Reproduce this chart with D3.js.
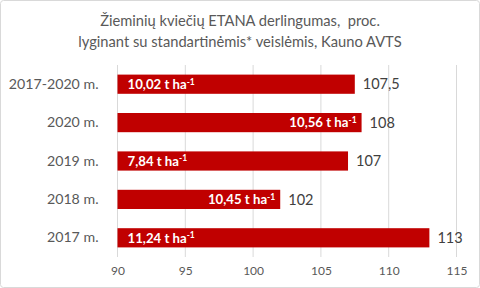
<!DOCTYPE html>
<html>
<head>
<meta charset="utf-8">
<script src="https://cdn.jsdelivr.net/npm/d3@7"></script>
<style>
  body { margin: 0; background: #fff; }
  text { font-family: Lato, "Open Sans", sans-serif; }
</style>
</head>
<body>
<div id="chart"></div>
<script>
// Chart data
var categories = ["2017-2020 m.", "2020 m.", "2019 m.", "2018 m.", "2017 m."];
var values = [107.5, 108, 107, 102, 113];
var yields = ["10,02", "10,56", "7,84", "10,45", "11,24"];
var yieldAlign = ["start", "end", "start", "end", "start"];
var ticks = [90, 95, 100, 105, 110, 115];
var titleLines = ["Žieminių kviečių ETANA derlingumas,  proc.",
  "lyginant su standartinėmis* veislėmis, Kauno AVTS"];

var svgWidth = 480;
var svgHeight = 288;

var margin = { top: 65, right: 23, bottom: 31, left: 117.5 };
var width = svgWidth - margin.left - margin.right;
var height = svgHeight - margin.top - margin.bottom;

var svg = d3.select("#chart").append("svg")
  .attr("width", svgWidth)
  .attr("height", svgHeight);

// outer frame
svg.append("rect")
  .attr("x", 0.5).attr("y", 0.5)
  .attr("width", svgWidth - 1).attr("height", svgHeight - 1)
  .attr("rx", 3)
  .attr("fill", "#fff")
  .attr("stroke", "#d9d9d9");

// Title
svg.append("text")
  .attr("x", 240)
  .attr("text-anchor", "middle")
  .attr("fill", "#595959")
  .attr("font-size", "14.7px")
  .selectAll("tspan")
  .data(titleLines)
  .enter()
  .append("tspan")
  .attr("x", 240)
  .attr("y", (d, i) => 26 + i * 20.5)
  .style("white-space", "pre")
  .text(d => d);

var chartGroup = svg.append("g")
  .attr("transform", `translate(${margin.left}, ${margin.top})`);

var x = d3.scaleLinear().domain([90, 115]).range([0, 339]);
var y = d3.scaleBand().domain(categories).range([0, height]).paddingInner(0.5).paddingOuter(0.25);

// gridlines
chartGroup.append("g")
  .selectAll("line")
  .data(ticks)
  .enter()
  .append("line")
  .attr("x1", d => x(d)).attr("x2", d => x(d))
  .attr("y1", 0).attr("y2", height)
  .attr("stroke", "#d9d9d9")
  .attr("stroke-width", 1);

// x axis
var xAxis = chartGroup.append("g")
  .attr("transform", `translate(0, ${height})`)
  .call(d3.axisBottom(x).tickValues(ticks).tickSize(0).tickPadding(9));
xAxis.select(".domain").remove();
xAxis.selectAll("text")
  .attr("fill", "#595959")
  .attr("font-size", "12px")
  .style("font-family", "Lato, sans-serif");

// y axis
var yAxis = chartGroup.append("g")
  .call(d3.axisLeft(y).tickSize(0).tickPadding(19));
yAxis.select(".domain").remove();
yAxis.selectAll("text")
  .attr("fill", "#595959")
  .attr("font-size", "14.2px")
  .style("font-family", "Lato, sans-serif");

var data = categories.map((c, i) => ({ cat: c, value: values[i], yld: yields[i], align: yieldAlign[i] }));

// bars
chartGroup.selectAll(".bar")
  .data(data)
  .enter()
  .append("rect")
  .attr("class", "bar")
  .attr("x", x(90))
  .attr("y", d => y(d.cat))
  .attr("width", d => x(d.value) - x(90))
  .attr("height", y.bandwidth())
  .attr("fill", "#c00000");

// value labels
chartGroup.selectAll(".val")
  .data(data)
  .enter()
  .append("text")
  .attr("class", "val")
  .attr("x", d => x(d.value) + 8)
  .attr("y", d => y(d.cat) + y.bandwidth() / 2)
  .attr("dy", "0.36em")
  .attr("fill", "#404040")
  .attr("font-size", "14.5px")
  .text(d => String(d.value).replace(".", ","));

// yield labels inside bars
var yl = chartGroup.selectAll(".yld")
  .data(data)
  .enter()
  .append("text")
  .attr("class", "yld")
  .attr("x", d => d.align === "start" ? x(90) + 10 : x(d.value) - 5)
  .attr("y", d => y(d.cat) + y.bandwidth() / 2 + 4.8)
  .attr("text-anchor", d => d.align)
  .attr("fill", "#fff")
  .attr("font-weight", "bold")
  .attr("font-size", "13.2px");
yl.append("tspan").text(d => d.yld + " t ha");
yl.append("tspan")
  .attr("dy", -4.5)
  .attr("font-size", "8.5px")
  .text("-1");
</script>
</body>
</html>
